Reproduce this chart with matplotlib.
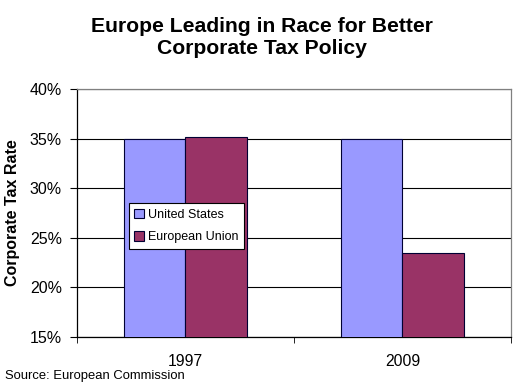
import numpy as np
import matplotlib.pyplot as plt
from matplotlib.ticker import FuncFormatter, FixedLocator

plt.rcParams['font.family'] = ['Liberation Sans', 'DejaVu Sans']

years = ['1997', '2009']
us_rate = [35.0, 35.0]
eu_rate = [35.2, 23.5]
series_names = ['United States', 'European Union']

fig = plt.figure(figsize=(5.24, 3.87), dpi=100)
ax = fig.add_axes([0.147, 0.129, 0.828, 0.641])

x = np.arange(len(years))
w = 0.283
ax.bar(x - w / 2, us_rate, w, bottom=0, color='#9999FF', edgecolor='#000033',
       linewidth=0.8, label=series_names[0], zorder=3)
ax.bar(x + w / 2, eu_rate, w, bottom=0, color='#993366', edgecolor='#000033',
       linewidth=0.8, label=series_names[1], zorder=3)

ax.set_ylim(15, 40)
ax.set_xlim(-0.5, 1.5)
ax.set_yticks([15, 20, 25, 30, 35, 40])
ax.yaxis.set_major_formatter(FuncFormatter(lambda v, p: f'{v:.0f}%'))
ax.grid(axis='y', color='black', linewidth=0.8, zorder=1)

ax.set_xticks(x)
ax.set_xticklabels(years)
ax.tick_params(axis='x', length=0, labelsize=11.3, pad=12)
ax.xaxis.set_minor_locator(FixedLocator([-0.5, 0.5, 1.5]))
ax.tick_params(axis='x', which='minor', length=4, direction='out', color='black')
ax.tick_params(axis='y', length=5, direction='out', labelsize=11.5, pad=6)

for side in ['left', 'bottom']:
    ax.spines[side].set_color('black')
    ax.spines[side].set_linewidth(0.9)
for side in ['top', 'right']:
    ax.spines[side].set_color('#808080')
    ax.spines[side].set_linewidth(0.9)

ax.set_ylabel('Corporate Tax Rate', fontsize=11.5, fontweight='bold', labelpad=7)

leg = ax.legend(loc='lower left', bbox_to_anchor=(0.105, 0.33), fontsize=9,
                frameon=True, fancybox=False, edgecolor='black', framealpha=1,
                handlelength=0.75, handleheight=0.75, handletextpad=0.3,
                borderpad=0.45, labelspacing=0.85)
leg.get_frame().set_linewidth(0.8)
leg.set_zorder(5)

fig.text(0.5, 0.903, 'Europe Leading in Race for Better\nCorporate Tax Policy',
         ha='center', va='center', fontsize=15.2, fontweight='bold', linespacing=1.2)
fig.text(0.01, 0.012, 'Source: European Commission', fontsize=9.4, ha='left', va='bottom')

fig.savefig('out.png', dpi=100)
